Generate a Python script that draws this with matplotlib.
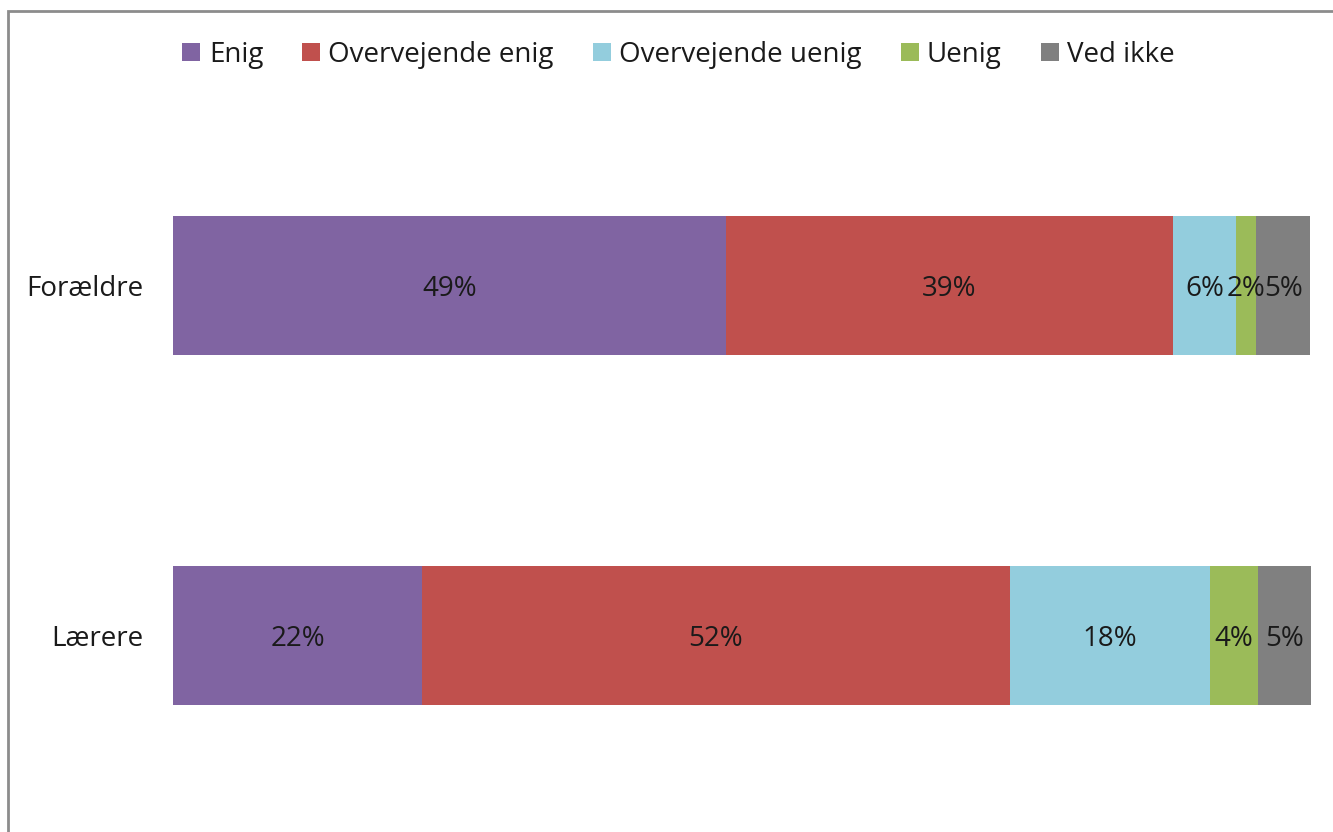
import matplotlib.pyplot as plt
from matplotlib.patches import Rectangle

groups = ["Lærere", "Forældre"]
answers = ["Enig", "Overvejende enig", "Overvejende uenig", "Uenig", "Ved ikke"]
colors = ["#8064a2", "#c0504d", "#93cddd", "#9bbb59", "#808080"]

# share of answers per group (percent), bottom-to-top order as in groups
enig = [21.9, 48.6]
overv_enig = [51.7, 39.4]
overv_uenig = [17.6, 5.5]
uenig = [4.2, 1.8]
ved_ikke = [4.7, 4.7]
series = [enig, overv_enig, overv_uenig, uenig, ved_ikke]

plt.rcParams["font.family"] = ["Open Sans", "DejaVu Sans"]

fig = plt.figure(figsize=(13.33, 8.32), dpi=100)
ax = fig.add_axes([0.1298, 0.0258, 0.8537, 0.8414])

left = [0.0] * len(groups)
for name, vals, col in zip(answers, series, colors):
    bars = ax.barh(range(len(groups)), vals, left=left, height=0.397,
                   color=col, label=name, edgecolor="none")
    for b, v in zip(bars, vals):
        ax.text(b.get_x() + b.get_width() / 2, b.get_y() + b.get_height() / 2,
                f"{round(v)}%", ha="center", va="center_baseline", fontsize=20,
                color="#1a1a1a")
    left = [l + v for l, v in zip(left, vals)]

ax.set_xlim(0, max(left))
ax.set_ylim(-0.5, 1.5)
ax.set_yticks(range(len(groups)))
ax.set_yticklabels(groups, fontsize=20, color="#1a1a1a")
ax.set_xticks([])
ax.tick_params(axis="y", length=0, pad=21)
for s in ax.spines.values():
    s.set_visible(False)

fig.legend(loc="center", bbox_to_anchor=(0.509, 0.934), ncol=5, frameon=False,
           fontsize=20, handlelength=0.65, handleheight=0.65, handletextpad=0.3,
           columnspacing=1.4, labelcolor="#1a1a1a")

fig.patches.append(Rectangle((8 / 1333, -0.1), 1.2, (832 - 11) / 832 + 0.1,
                             transform=fig.transFigure, fill=False,
                             edgecolor="#8c8c8c", linewidth=2))

fig.savefig("out.png", dpi=100)
